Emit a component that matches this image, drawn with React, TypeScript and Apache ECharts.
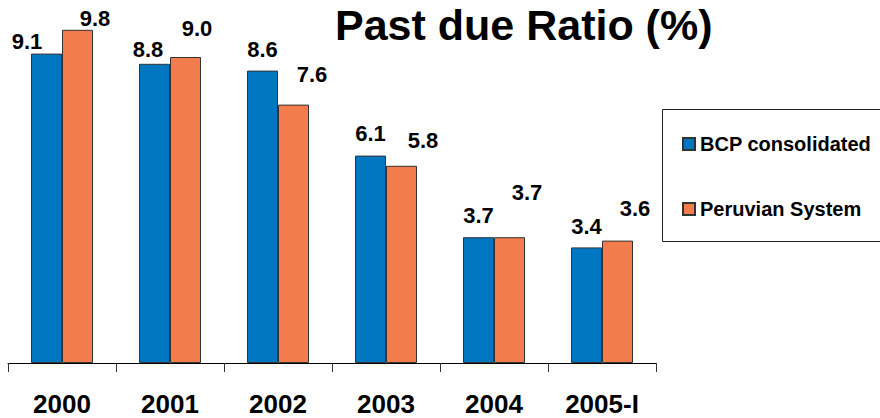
import React, { useEffect, useRef } from "react";
import * as echarts from "echarts";

const categories = ["2000", "2001", "2002", "2003", "2004", "2005-I"];
const bcpConsolidated = [9.1, 8.8, 8.6, 6.1, 3.7, 3.4];
const peruvianSystem = [9.8, 9.0, 7.6, 5.8, 3.7, 3.6];
const seriesNames = ["BCP consolidated", "Peruvian System"];
const titleText = "Past due Ratio (%)";

// label nudges (style only)
const bcpLabelOffsets = [[-19.5, 8.5], [-6.5, 7], [0, 0], [0, -0.7], [0, -1], [0, 0]];
const peruLabelOffsets = [[17.5, 10], [11.5, -8], [18.5, -9], [21.5, -4.7], [17.5, -24], [17.5, -10.7]];

const FONT = "'Liberation Sans', Arial, Helvetica, sans-serif";
const BLUE = "#0077C0";
const ORANGE = "#F27C4B";

export default function App() {
  const ref = useRef<HTMLDivElement>(null);
  useEffect(() => {
    if (!ref.current) return;
    const chart = echarts.init(ref.current, undefined, { renderer: "svg" });
    const mk = (vals: number[], offs: number[][]) =>
      vals.map((v, i) => ({ value: v, label: { offset: offs[i] } }));
    const labelStyle = {
      show: true,
      position: "top" as const,
      distance: 10,
      fontSize: 22,
      fontWeight: "bold" as const,
      fontFamily: FONT,
      color: "#000",
      formatter: (p: any) => Number(p.value).toFixed(1),
    };
    chart.setOption({
      animation: false,
      title: {
        text: titleText,
        left: 335,
        top: 3,
        padding: 0,
        textStyle: { fontSize: 43, fontWeight: "bold", fontFamily: FONT, color: "#000" },
      },
      legend: {
        orient: "vertical",
        left: 682,
        top: 134,
        itemGap: 45,
        itemWidth: 12,
        itemHeight: 12,
        icon: "rect",
        padding: 0,
        textStyle: { fontSize: 20, fontWeight: "bold", fontFamily: FONT, color: "#000" },
        data: seriesNames,
      },
      graphic: [
        {
          type: "rect",
          shape: { x: 662.5, y: 109.5, width: 240, height: 132 },
          style: { fill: "none", stroke: "#222", lineWidth: 1 },
          silent: true,
        },
      ],
      grid: { left: 8, right: 224, top: 23, bottom: 55, containLabel: false },
      xAxis: {
        type: "category",
        data: categories,
        axisLine: { lineStyle: { color: "#000", width: 1 } },
        axisTick: { show: true, length: 9, lineStyle: { color: "#333" } },
        axisLabel: { fontSize: 26, fontWeight: "bold", fontFamily: FONT, color: "#000", margin: 28 },
      },
      yAxis: {
        type: "value",
        min: 0,
        max: 10,
        show: false,
        splitLine: { show: false },
      },
      series: [
        {
          name: seriesNames[0],
          type: "bar",
          data: mk(bcpConsolidated, bcpLabelOffsets),
          barWidth: 31,
          barGap: "0%",
          itemStyle: { color: BLUE, borderColor: "#333", borderWidth: 1 },
          label: labelStyle,
        },
        {
          name: seriesNames[1],
          type: "bar",
          data: mk(peruvianSystem, peruLabelOffsets),
          barWidth: 31,
          barGap: "0%",
          itemStyle: { color: ORANGE, borderColor: "#333", borderWidth: 1 },
          label: labelStyle,
        },
      ],
    });
    return () => chart.dispose();
  }, []);
  return <div ref={ref} style={{ width: 880, height: 418, position: "absolute", left: 0, top: 0 }} />;
}
